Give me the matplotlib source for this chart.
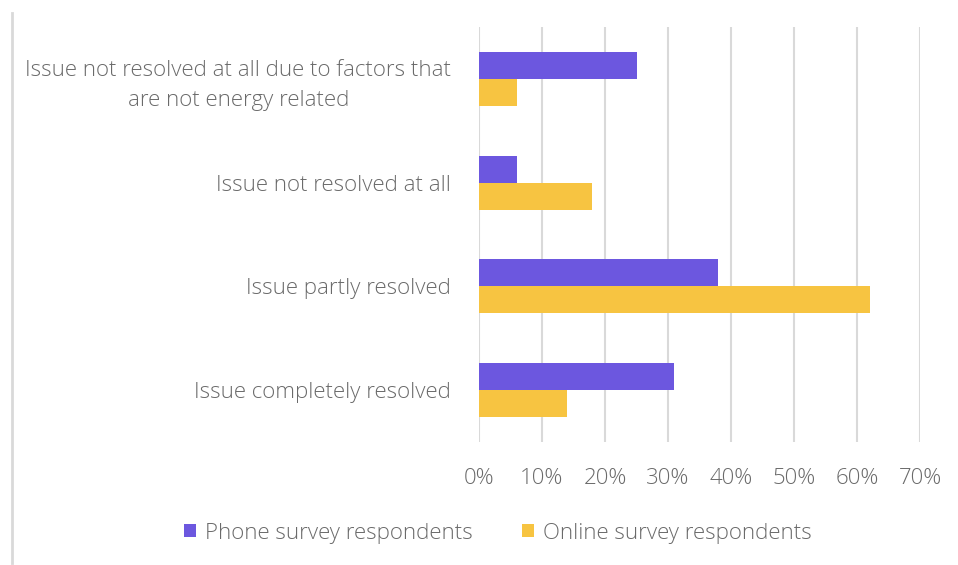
import matplotlib.pyplot as plt
import numpy as np
from matplotlib.lines import Line2D

categories = ["Issue not resolved at all due to factors that\nare not energy related",
              "Issue not resolved at all",
              "Issue partly resolved",
              "Issue completely resolved"]
phone = [25, 6, 38, 31]
online = [6, 18, 62, 14]
series_names = ["Phone survey respondents", "Online survey respondents"]
xticks = [0, 10, 20, 30, 40, 50, 60, 70]

PURPLE = "#6C57DF"
YELLOW = "#F7C441"
TEXT = "#6A6A6A"
GRID = "#D9D9D9"

plt.rcParams['font.family'] = ['Open Sans', 'DejaVu Sans']

fig = plt.figure(figsize=(9.58, 5.65), dpi=100)
ax = fig.add_axes([479 / 958, 1 - 442 / 565, 441 / 958, 415 / 565])

y = np.arange(len(categories))
h = 0.26
ax.barh(y - h / 2, phone, height=h, color=PURPLE, label=series_names[0], zorder=3)
ax.barh(y + h / 2, online, height=h, color=YELLOW, label=series_names[1], zorder=3)

ax.set_ylim(len(categories) - 0.5, -0.5)
ax.set_xlim(0, 70)
ax.set_xticks(xticks)
ax.set_xticklabels([f"{t}%" for t in xticks], fontsize=16, color=TEXT, fontweight='light')
ax.set_yticks(y)
ax.set_yticklabels(categories, fontsize=16, color=TEXT, fontweight='light',
                   multialignment='center', linespacing=1.55)
ax.tick_params(axis='both', length=0)
ax.tick_params(axis='x', pad=19)
ax.tick_params(axis='y', pad=20)
ax.grid(axis='x', color=GRID, linewidth=1.5, zorder=0)
for s in ax.spines.values():
    s.set_visible(False)

# left frame line of the original chart box
fig.add_artist(Line2D([11.5 / 958, 11.5 / 958], [1 - 13 / 565, 1 - 563 / 565],
                      color=GRID, linewidth=2))

leg = fig.legend(loc='center', bbox_to_anchor=(498 / 958, 1 - 533 / 565), ncol=2,
                 frameon=False, fontsize=16, handlelength=0.55, handleheight=0.55,
                 handletextpad=0.4, columnspacing=2.2)
for t in leg.get_texts():
    t.set_color(TEXT)
    t.set_fontweight('light')

fig.savefig("out.png", dpi=100)
